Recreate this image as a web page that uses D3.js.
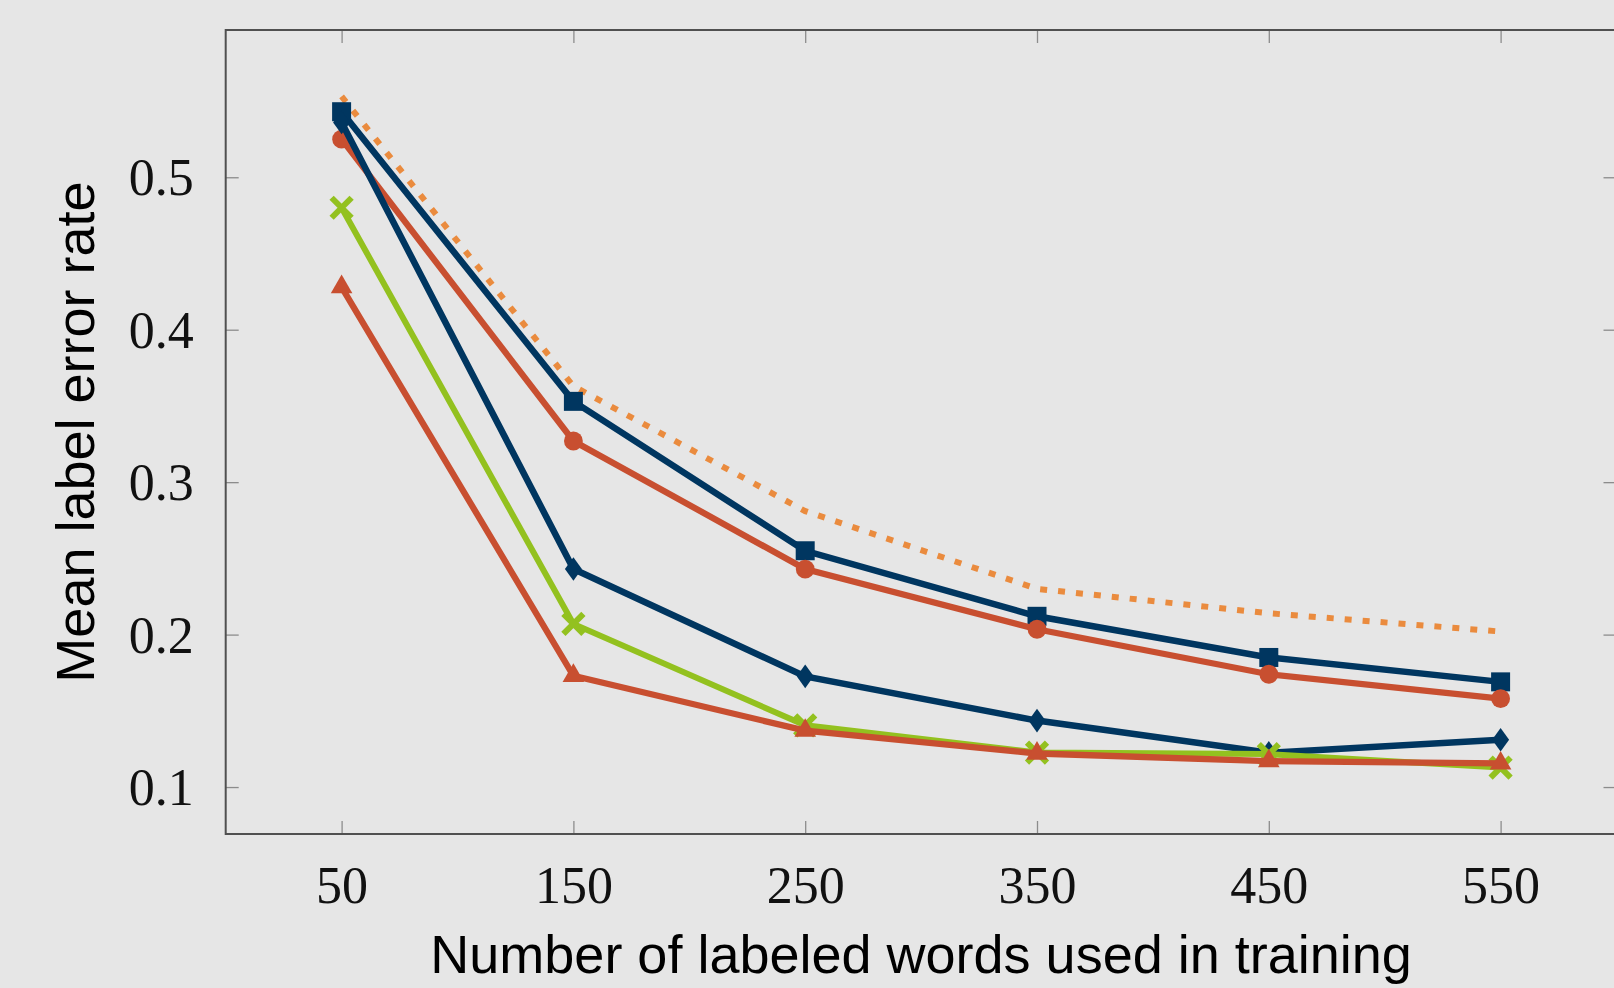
<!DOCTYPE html>
<html>
<head>
<meta charset="utf-8">
<script src="https://cdnjs.cloudflare.com/ajax/libs/d3/7.8.5/d3.min.js"></script>
<style>
  html, body { margin: 0; padding: 0; background: #e6e6e6; overflow: hidden; }
  svg { display: block; }
</style>
</head>
<body>
<div id="chart"></div>
<script>
// data
var xValues = [50, 150, 250, 350, 450, 550];
var dottedSeries   = [0.553, 0.363, 0.281, 0.230, 0.214, 0.202];
var squareSeries   = [0.543, 0.353, 0.255, 0.212, 0.185, 0.169];
var circleSeries   = [0.525, 0.327, 0.243, 0.2035, 0.174, 0.158];
var diamondSeries  = [0.536, 0.243, 0.1726, 0.1436, 0.1225, 0.131];
var crossSeries    = [0.480, 0.207, 0.1405, 0.1226, 0.1216, 0.1128];
var triangleSeries = [0.428, 0.173, 0.137, 0.122, 0.117, 0.1155];
var xTicks = [50, 150, 250, 350, 450, 550];
var yTicks = [0.1, 0.2, 0.3, 0.4, 0.5];
var xTitle = "Number of labeled words used in training";
var yTitle = "Mean label error rate";

var width = 1614, height = 988;
// plot box (the right edge runs just past the window)
var boxLeft = 225.7, boxRight = 1616.5, boxTop = 30, boxBottom = 834;
var tickLen = 13;

var navy = "#003660", red = "#c84f30", green = "#93c11f", orange = "#ea8b3e";

var series = [
    { values: dottedSeries, color: orange, marker: null, dash: "7,11", width: 6 },
    { values: squareSeries, color: navy, marker: "square", width: 6.5 },
    { values: circleSeries, color: red, marker: "circle", width: 6.3 },
    { values: diamondSeries, color: navy, marker: "diamond", width: 6.5 },
    { values: crossSeries, color: green, marker: "cross", width: 6 },
    { values: triangleSeries, color: red, marker: "triangle", width: 6.3 }
];

var x = d3.scaleLinear().domain([0, 600]).range([boxLeft, boxRight]);
var y = d3.scaleLinear().domain([0.0692, 0.5966]).range([boxBottom, boxTop]);

var svg = d3.select("#chart").append("svg")
    .attr("width", width)
    .attr("height", height);

svg.append("rect")
    .attr("width", width).attr("height", height)
    .attr("fill", "#e6e6e6");

// ticks on all four sides, pointing inward
function styleAxis(g) {
    g.select(".domain").remove();
    g.selectAll(".tick line").attr("stroke", "#8c8c8c").attr("stroke-width", 1.3);
    g.selectAll(".tick text")
        .attr("fill", "#111")
        .style("font-family", "'Liberation Serif', 'DejaVu Serif', serif")
        .style("font-size", "52px");
}

svg.append("g")
    .attr("transform", "translate(0," + boxBottom + ")")
    .call(d3.axisBottom(x).tickValues(xTicks).tickSizeInner(-tickLen).tickSizeOuter(0).tickFormat(d3.format("d")))
    .call(styleAxis)
    .call(function (g) { g.selectAll(".tick text").attr("y", 69).attr("dy", null); });

svg.append("g")
    .attr("transform", "translate(0," + boxTop + ")")
    .call(d3.axisTop(x).tickValues(xTicks).tickSizeInner(-tickLen).tickSizeOuter(0).tickFormat(""))
    .call(styleAxis);

svg.append("g")
    .attr("transform", "translate(" + boxLeft + ",0)")
    .call(d3.axisLeft(y).tickValues(yTicks).tickSizeInner(-tickLen).tickSizeOuter(0).tickFormat(d3.format(".1f")))
    .call(styleAxis)
    .call(function (g) { g.selectAll(".tick text").attr("x", -32).attr("dy", "0.34em"); });

svg.append("g")
    .attr("transform", "translate(" + boxRight + ",0)")
    .call(d3.axisRight(y).tickValues(yTicks).tickSizeInner(-tickLen).tickSizeOuter(0).tickFormat(""))
    .call(styleAxis);

// frame
svg.append("rect")
    .attr("x", boxLeft).attr("y", boxTop)
    .attr("width", boxRight - boxLeft).attr("height", boxBottom - boxTop)
    .attr("fill", "none")
    .attr("stroke", "#505050")
    .attr("stroke-width", 2);

// marker shapes
function markerPath(type) {
    if (type == "square") return "M-9.5,-9.5H9.5V9.5H-9.5Z";
    if (type == "circle") return d3.symbol().type(d3.symbolCircle).size(Math.PI * 9.4 * 9.4)();
    if (type == "diamond") return "M0,-11.8L8.5,0L0,11.8L-8.5,0Z";
    if (type == "triangle") return "M0,-12.4L10.8,6.2L-10.8,6.2Z";
    if (type == "cross") return "M-10,-10L10,10M-10,10L10,-10";
    return "";
}

var line = d3.line()
    .x(function (d) { return x(d.x); })
    .y(function (d) { return y(d.y); });

var plot = svg.append("g");

series.forEach(function (s) {
    var pts = xValues.map(function (v, i) { return { x: v, y: s.values[i] }; });
    var g = plot.append("g");
    g.append("path")
        .datum(pts)
        .attr("d", line)
        .attr("fill", "none")
        .attr("stroke", s.color)
        .attr("stroke-width", s.width)
        .attr("stroke-linejoin", "miter")
        .attr("stroke-dasharray", s.dash || null);
    if (!s.marker) return;
    g.selectAll("path.mark")
        .data(pts)
        .enter().append("path")
        .attr("class", "mark")
        .attr("transform", function (d) { return "translate(" + x(d.x) + "," + y(d.y) + ")"; })
        .attr("d", markerPath(s.marker))
        .attr("fill", s.marker == "cross" ? "none" : s.color)
        .attr("stroke", s.marker == "cross" ? s.color : "none")
        .attr("stroke-width", s.marker == "cross" ? 6 : 0);
});

// axis titles
svg.append("text")
    .attr("x", (boxLeft + boxRight) / 2)
    .attr("y", 973)
    .attr("text-anchor", "middle")
    .style("font-family", "'Liberation Sans', Arial, sans-serif")
    .style("font-size", "54px")
    .attr("fill", "#000")
    .text(xTitle);

svg.append("text")
    .attr("transform", "translate(93.5," + (boxTop + boxBottom) / 2 + ") rotate(-90)")
    .attr("text-anchor", "middle")
    .style("font-family", "'Liberation Sans', Arial, sans-serif")
    .style("font-size", "54px")
    .attr("fill", "#000")
    .text(yTitle);
</script>
</body>
</html>
